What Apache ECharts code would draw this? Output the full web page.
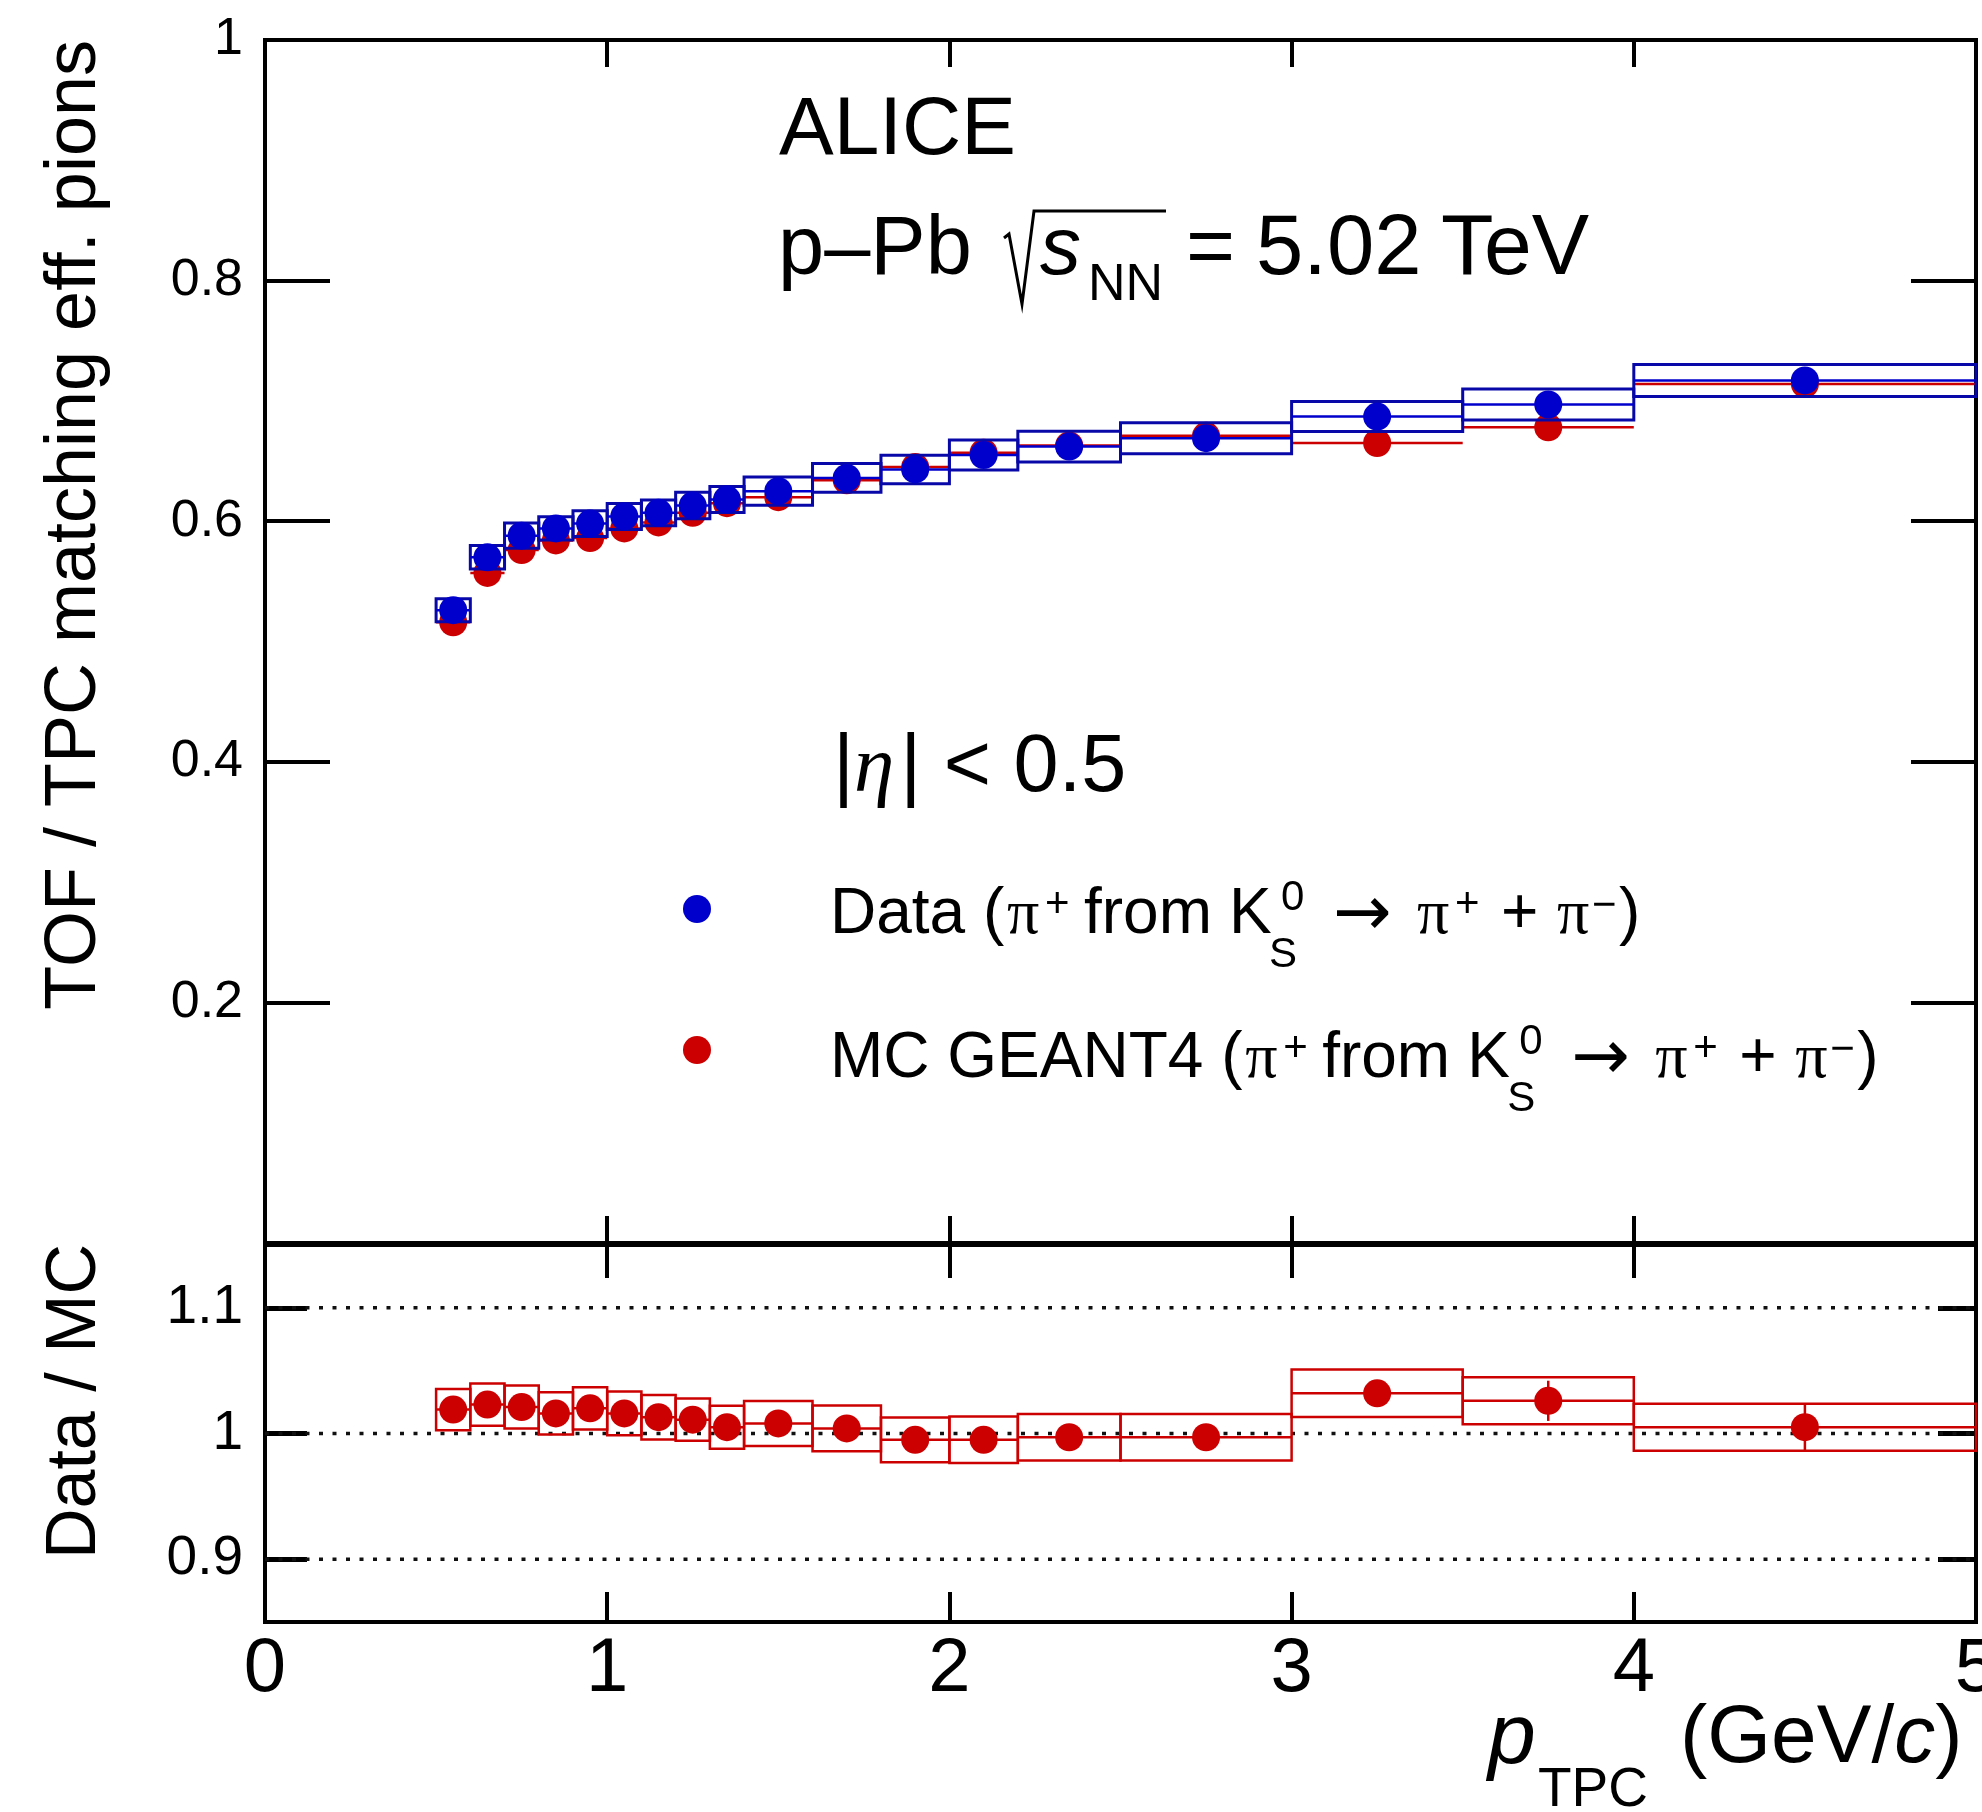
<!DOCTYPE html>
<html>
<head>
<meta charset="utf-8">
<script src="https://cdn.jsdelivr.net/npm/echarts@6/dist/echarts.min.js"></script>
<style>
  html, body { margin: 0; padding: 0; background: #fff; }
  #chart { width: 1982px; height: 1812px; }
</style>
</head>
<body>
<div id="chart"></div>
<script>
// p_TPC bins (GeV/c)
const binLow  = [0.5, 0.6, 0.7, 0.8, 0.9, 1.0, 1.1, 1.2, 1.3, 1.4, 1.6, 1.8, 2.0, 2.2, 2.5, 3.0, 3.5, 4.0];
const binHigh = [0.6, 0.7, 0.8, 0.9, 1.0, 1.1, 1.2, 1.3, 1.4, 1.6, 1.8, 2.0, 2.2, 2.5, 3.0, 3.5, 4.0, 5.0];

// TOF/TPC matching efficiency, data and its systematic uncertainty
const dataEff = [0.526, 0.570, 0.588, 0.594, 0.598, 0.604, 0.607, 0.613, 0.618, 0.625, 0.636, 0.643, 0.655, 0.662, 0.669, 0.687, 0.697, 0.717];
const dataSys = [0.0096, 0.0097, 0.0104, 0.0097, 0.0107, 0.0108, 0.0107, 0.0110, 0.0108, 0.0118, 0.0120, 0.0118, 0.0125, 0.0127, 0.0129, 0.0125, 0.0128, 0.0133];

// MC GEANT4 efficiency
const mcEff = [0.516, 0.557, 0.576, 0.584, 0.586, 0.594, 0.599, 0.607, 0.615, 0.620, 0.634, 0.645, 0.657, 0.663, 0.671, 0.665, 0.678, 0.714];

// Data / MC ratio with systematic (boxes) and statistical (bars) uncertainties
const ratio     = [1.019, 1.023, 1.021, 1.016, 1.020, 1.016, 1.013, 1.011, 1.005, 1.008, 1.004, 0.995, 0.995, 0.997, 0.997, 1.032, 1.026, 1.005];
const ratioSys  = [0.0165, 0.0168, 0.0171, 0.0168, 0.0169, 0.0174, 0.0177, 0.0168, 0.0171, 0.0179, 0.0182, 0.0178, 0.0185, 0.0185, 0.0185, 0.0189, 0.0187, 0.0187];
const ratioStat = [0.002, 0.002, 0.002, 0.002, 0.002, 0.002, 0.003, 0.003, 0.003, 0.003, 0.004, 0.004, 0.005, 0.005, 0.006, 0.009, 0.016, 0.0185];

// axis ticks
const ratioTicks  = [0.9, 1, 1.1];
const ratioGuides = [0.9, 1, 1.1];

const BLUE = '#0000cc';
const BLUE_BOX = '#0808a8';
const RED = '#cc0000';
const SANS = 'Liberation Sans';
const SERIF = 'Liberation Serif';
const DEJAVU = 'DejaVu Sans';

const rows = (vals, errs) => binLow.map((lo, i) => [lo, binHigh[i], vals[i], errs ? errs[i] : 0]);
const points = (vals) => binLow.map((lo, i) => [(lo + binHigh[i]) / 2, vals[i]]);

function boxRenderer(color, width) {
  return function (params, api) {
    const lo = api.value(0), hi = api.value(1), v = api.value(2), e = api.value(3);
    const a = api.coord([lo, v + e]);
    const b = api.coord([hi, v - e]);
    return {
      type: 'rect',
      shape: { x: a[0], y: a[1], width: b[0] - a[0], height: b[1] - a[1] },
      style: { fill: 'none', stroke: color, lineWidth: width }
    };
  };
}
function hbarRenderer(color, width) {
  return function (params, api) {
    const v = api.value(2);
    const a = api.coord([api.value(0), v]);
    const b = api.coord([api.value(1), v]);
    return { type: 'line', shape: { x1: a[0], y1: a[1], x2: b[0], y2: b[1] }, style: { stroke: color, lineWidth: width } };
  };
}
function vbarRenderer(color, width) {
  return function (params, api) {
    const xc = (api.value(0) + api.value(1)) / 2, v = api.value(2), e = api.value(3);
    const a = api.coord([xc, v + e]);
    const b = api.coord([xc, v - e]);
    return { type: 'line', shape: { x1: a[0], y1: a[1], x2: b[0], y2: b[1] }, style: { stroke: color, lineWidth: width } };
  };
}
function guideRenderer(params, api) {
  const y = api.coord([0, api.value(0)])[1];
  const cs = params.coordSys;
  return {
    type: 'line',
    shape: { x1: cs.x, y1: y, x2: cs.x + cs.width, y2: y },
    style: { stroke: '#111', lineWidth: 3.5, lineDash: [4, 9.5] }
  };
}

// ---- text layout helpers (super/subscripts built from runs) ----
const measureCtx = document.createElement('canvas').getContext('2d');
const MID = {}; MID[SANS] = 0.3467; MID[SERIF] = 0.3376; MID[DEJAVU] = 0.346;
function fontOf(s) {
  return (s.italic ? 'italic ' : '') + s.size + 'px "' + (s.family || SANS) + '"';
}
function textWidth(t, s) {
  measureCtx.font = fontOf(s);
  return measureCtx.measureText(t).width;
}
function textRun(x0, baseline, segs) {
  const out = [];
  let x = x0;
  segs.forEach(function (s) {
    const family = s.family || SANS;
    const font = fontOf(s);
    const w = textWidth(s.t, s);
    const sx = (s.at != null) ? s.at : x + (s.dx || 0);
    out.push({
      type: 'text', x: sx, y: baseline + (s.dy || 0) - MID[family] * s.size, z: 50,
      style: { text: s.t, font: font, fill: '#000', align: 'left', verticalAlign: 'middle' }
    });
    if (!s.stack) x = sx + w;
  });
  return out;
}

const LEG = 64, SUP = 42;
function decayRun(prefix, x0, baseline) {
  const O = x0 + textWidth(prefix, { size: LEG });
  return textRun(x0, baseline, [
    { t: prefix, size: LEG, at: x0 },
    { t: '(', size: LEG, at: O },
    { t: 'π', size: LEG, family: SERIF, at: O + 24 },
    { t: '+', size: SUP, dy: -18.5, at: O + 62 },
    { t: 'from', size: LEG, at: O + 101 },
    { t: 'K', size: LEG, at: O + 246 },
    { t: '0', size: SUP, dy: -25, at: O + 298 },
    { t: 'S', size: SUP, dy: 32, at: O + 286 },
    { t: '→', size: 70, family: DEJAVU, dy: 3, at: O + 350 },
    { t: 'π', size: LEG, family: SERIF, at: O + 434 },
    { t: '+', size: SUP, dy: -18.5, at: O + 472 },
    { t: '+', size: LEG, at: O + 518 },
    { t: 'π', size: LEG, family: SERIF, at: O + 574 },
    { t: '−', size: SUP, dy: -17, at: O + 609 },
    { t: ')', size: LEG, at: O + 636 }
  ]);
}

const graphics = [].concat(
  textRun(779, 160, [{ t: 'ALICE', size: 82 }]),
  textRun(778, 280, [{ t: 'p–Pb', size: 83 }]),
  textRun(1040, 280, [{ t: 's', size: 82, italic: true }]),
  textRun(1088, 304, [{ t: 'NN', size: 52 }]),
  textRun(0, 280, [
    { t: '=', size: 84, at: 1186 },
    { t: '5.02', size: 85, at: 1256 },
    { t: 'TeV', size: 86, at: 1441 }
  ]),
  textRun(833, 797, [
    { t: '|', size: 81 },
    { t: 'η', size: 81, family: SERIF, italic: true },
    { t: '|', size: 81, dx: 6 },
    { t: ' < 0.5', size: 81 }
  ]),
  decayRun('Data ', 830, 938),
  decayRun('MC GEANT4 ', 830, 1082),
  textRun(1488, 1769, [{ t: 'p', size: 86, italic: true }]),
  textRun(1538, 1810, [{ t: 'TPC', size: 55 }]),
  textRun(1680, 1768, [
    { t: '(GeV/', size: 82 },
    { t: 'c', size: 82, italic: true },
    { t: ')', size: 82 }
  ]),
  [
    // radical sign over s_NN
    {
      type: 'polyline', z: 50,
      shape: { points: [[1004, 238], [1009, 234], [1022, 304], [1034, 211], [1166, 211]] },
      style: { stroke: '#000', lineWidth: 3, fill: 'none' }
    },
    // legend markers
    { type: 'circle', z: 50, shape: { cx: 697, cy: 909, r: 14 }, style: { fill: BLUE } },
    { type: 'circle', z: 50, shape: { cx: 697, cy: 1050, r: 14 }, style: { fill: RED } },
    // axis titles
    {
      type: 'text', x: 100 - MID[SANS] * 72, y: 40, rotation: Math.PI / 2, z: 50,
      style: { text: 'TOF / TPC matching eff. pions', font: '72px "Liberation Sans"', fill: '#000', align: 'right', verticalAlign: 'middle' }
    },
    {
      type: 'text', x: 100 - MID[SANS] * 70, y: 1244, rotation: Math.PI / 2, z: 50,
      style: { text: 'Data / MC', font: '70px "Liberation Sans"', fill: '#000', align: 'right', verticalAlign: 'middle' }
    }
  ]
);

const tickStyle = (len, w) => ({ show: true, inside: true, length: len, lineStyle: { color: '#000', width: w } });
const noLine = { show: false, onZero: false };

const option = {
  animation: false,
  backgroundColor: '#fff',
  textStyle: { fontFamily: SANS },
  grid: [
    { left: 265, top: 40, width: 1711, height: 1203, show: true, borderColor: '#000', borderWidth: 4,
      backgroundColor: 'transparent', outerBoundsMode: 'none', containLabel: false },
    { left: 265, top: 1245, width: 1711, height: 377, show: true, borderColor: '#000', borderWidth: 4,
      backgroundColor: 'transparent', outerBoundsMode: 'none', containLabel: false }
  ],
  xAxis: [
    { type: 'value', gridIndex: 0, min: 0, max: 5, interval: 1, position: 'bottom',
      axisLine: noLine, axisTick: tickStyle(27, 4), axisLabel: { show: false }, splitLine: { show: false } },
    { type: 'value', gridIndex: 1, min: 0, max: 5, interval: 1, position: 'bottom',
      axisLine: noLine, axisTick: tickStyle(30, 4),
      axisLabel: { show: true, fontSize: 76, color: '#000', margin: 10, fontFamily: SANS, showMinLabel: true, showMaxLabel: true },
      splitLine: { show: false } },
    { type: 'value', gridIndex: 0, min: 0, max: 5, interval: 1, position: 'top',
      axisLine: noLine, axisTick: tickStyle(27, 4), axisLabel: { show: false }, splitLine: { show: false } },
    { type: 'value', gridIndex: 1, min: 0, max: 5, interval: 1, position: 'top',
      axisLine: noLine, axisTick: tickStyle(33, 4), axisLabel: { show: false }, splitLine: { show: false } }
  ],
  yAxis: [
    { type: 'value', gridIndex: 0, min: 0, max: 1, interval: 0.2, position: 'left',
      axisLine: noLine, axisTick: tickStyle(65, 4),
      axisLabel: { show: true, fontSize: 52, color: '#000', margin: 22, fontFamily: SANS,
        formatter: v => (v === 0 ? '' : String(+v.toFixed(1))) },
      splitLine: { show: false } },
    { type: 'value', gridIndex: 1, min: 0.85, max: 1.15, position: 'left',
      axisLine: noLine,
      axisTick: Object.assign(tickStyle(42, 5), { customValues: ratioTicks }),
      axisLabel: { show: true, fontSize: 55, color: '#000', margin: 22, fontFamily: SANS, customValues: ratioTicks,
        formatter: v => String(+v.toFixed(1)) },
      splitLine: { show: false } },
    { type: 'value', gridIndex: 0, min: 0, max: 1, interval: 0.2, position: 'right',
      axisLine: noLine, axisTick: tickStyle(65, 4), axisLabel: { show: false }, splitLine: { show: false } },
    { type: 'value', gridIndex: 1, min: 0.85, max: 1.15, position: 'right',
      axisLine: noLine,
      axisTick: Object.assign(tickStyle(38, 5), { customValues: ratioTicks }),
      axisLabel: { show: false }, splitLine: { show: false } }
  ],
  series: [
    // ---- upper panel: efficiencies ----
    { type: 'custom', name: 'MC bins', xAxisIndex: 0, yAxisIndex: 0, renderItem: hbarRenderer(RED, 2.5),
      data: rows(mcEff), encode: { x: [0, 1], y: 2 }, z: 2 },
    { type: 'scatter', name: 'MC GEANT4', xAxisIndex: 0, yAxisIndex: 0, symbol: 'circle', symbolSize: 28,
      itemStyle: { color: RED, opacity: 1 }, data: points(mcEff), z: 3 },
    { type: 'custom', name: 'Data syst.', xAxisIndex: 0, yAxisIndex: 0, renderItem: boxRenderer(BLUE_BOX, 3),
      data: rows(dataEff, dataSys), encode: { x: [0, 1], y: 2 }, z: 4 },
    { type: 'custom', name: 'Data bins', xAxisIndex: 0, yAxisIndex: 0, renderItem: hbarRenderer(BLUE, 2.5),
      data: rows(dataEff), encode: { x: [0, 1], y: 2 }, z: 4 },
    { type: 'scatter', name: 'Data', xAxisIndex: 0, yAxisIndex: 0, symbol: 'circle', symbolSize: 28,
      itemStyle: { color: BLUE, opacity: 1 }, data: points(dataEff), z: 5 },

    // ---- lower panel: Data / MC ----
    { type: 'custom', name: 'guides', xAxisIndex: 1, yAxisIndex: 1, renderItem: guideRenderer,
      data: ratioGuides.map(v => [v]), encode: { y: 0 }, z: 1, silent: true },
    { type: 'custom', name: 'Ratio syst.', xAxisIndex: 1, yAxisIndex: 1, renderItem: boxRenderer(RED, 2.5),
      data: rows(ratio, ratioSys), encode: { x: [0, 1], y: 2 }, z: 2 },
    { type: 'custom', name: 'Ratio bins', xAxisIndex: 1, yAxisIndex: 1, renderItem: hbarRenderer(RED, 2.5),
      data: rows(ratio), encode: { x: [0, 1], y: 2 }, z: 2 },
    { type: 'custom', name: 'Ratio stat.', xAxisIndex: 1, yAxisIndex: 1, renderItem: vbarRenderer(RED, 2.5),
      data: rows(ratio, ratioStat), encode: { x: [0, 1], y: 2 }, z: 2 },
    { type: 'scatter', name: 'Data / MC', xAxisIndex: 1, yAxisIndex: 1, symbol: 'circle', symbolSize: 28,
      itemStyle: { color: RED, opacity: 1 }, data: points(ratio), z: 3 }
  ],
  graphic: graphics
};

const chart = echarts.init(document.getElementById('chart'), null, { renderer: 'canvas' });
chart.setOption(option);
</script>
</body>
</html>
